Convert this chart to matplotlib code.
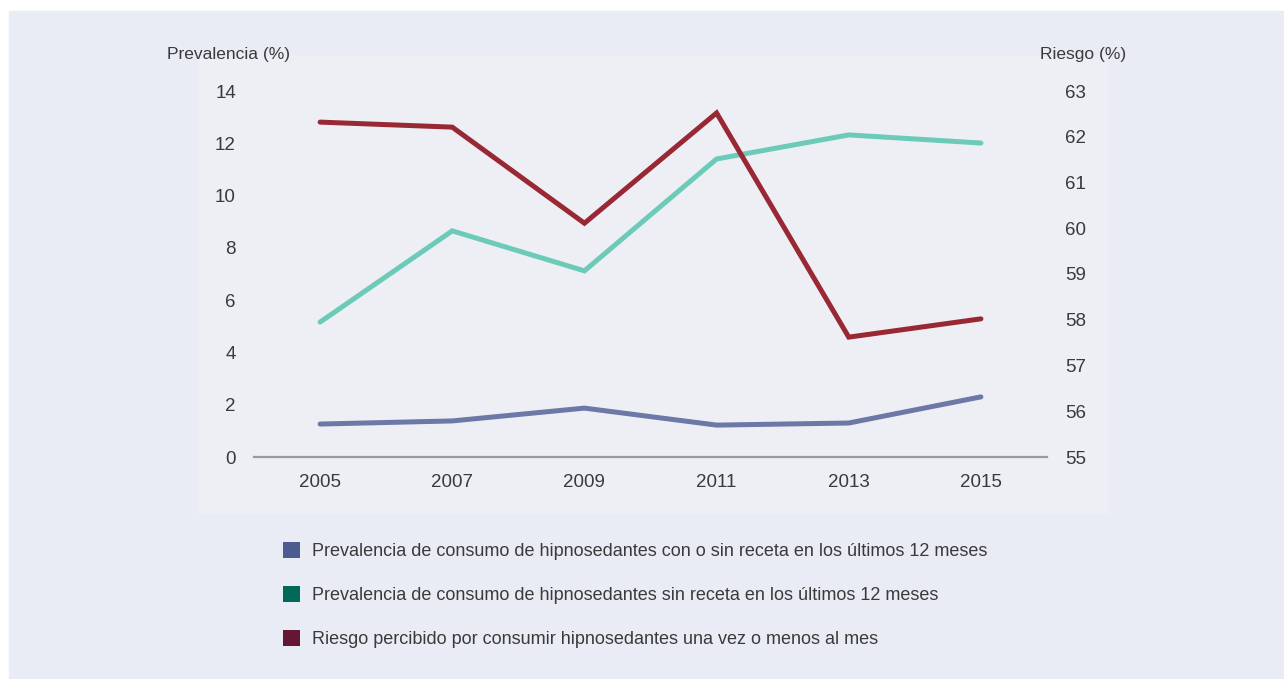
import matplotlib
matplotlib.use('Agg')
import matplotlib.pyplot as plt
from matplotlib.patches import Rectangle, Patch

plt.rcParams['font.family'] = ['Liberation Sans', 'DejaVu Sans']

years = [2005, 2007, 2009, 2011, 2013, 2015]
prev_total = [1.26, 1.38, 1.87, 1.22, 1.30, 2.30]
prev_sin_receta = [5.16, 8.65, 7.12, 11.40, 12.32, 12.01]
riesgo = [62.32, 62.21, 60.11, 62.52, 57.62, 58.02]

labels = [
    'Prevalencia de consumo de hipnosedantes con o sin receta en los últimos 12 meses',
    'Prevalencia de consumo de hipnosedantes sin receta en los últimos 12 meses',
    'Riesgo percibido por consumir hipnosedantes una vez o menos al mes',
]
line_colors = ['#6C78A6', '#6CCAB9', '#982833']
legend_colors = ['#4B5C8E', '#006A59', '#661533']
text_color = '#3A3A3A'

W, H = 1284, 679
fig = plt.figure(figsize=(W / 100, H / 100), dpi=100)
fig.patch.set_facecolor('white')

# fondo general y fondo del grafico
fig.patches.append(Rectangle((9 / W, 0), 1 - 9 / W, 1 - 11 / H,
                             transform=fig.transFigure, color='#E9ECF4', zorder=-2))
fig.patches.append(Rectangle((197 / W, 1 - 513 / H), (1107 - 197) / W, (513 - 56) / H,
                             transform=fig.transFigure, color='#EEEFF5', zorder=-1))

ax = fig.add_axes([254 / W, 1 - 457 / H, (1047 - 254) / W, (457 - 91) / H])
ax.patch.set_visible(False)
ax2 = ax.twinx()

ax.plot(years, prev_total, color=line_colors[0], lw=3.6, solid_capstyle='round', solid_joinstyle='miter')
ax.plot(years, prev_sin_receta, color=line_colors[1], lw=3.6, solid_capstyle='round', solid_joinstyle='miter')
ax2.plot(years, riesgo, color=line_colors[2], lw=3.6, solid_capstyle='round', solid_joinstyle='miter')

ax.set_xlim(2004, 2016)
ax.set_ylim(0, 14)
ax2.set_ylim(55, 63)
ax.set_xticks(years)
ax.set_yticks(range(0, 15, 2))
ax2.set_yticks(range(55, 64))

for a in (ax, ax2):
    for s in a.spines.values():
        s.set_visible(False)
    a.tick_params(length=0, labelsize=13.5, labelcolor=text_color)
ax.spines['bottom'].set_visible(True)
ax.spines['bottom'].set_color('#9A9A9A')
ax.spines['bottom'].set_linewidth(1.6)
ax.tick_params(axis='y', pad=13)
ax.tick_params(axis='x', pad=12.5)
ax2.tick_params(axis='y', pad=13)
for t in ax.get_yticklabels():
    t.set_horizontalalignment('right')

fig.text(167 / W, 1 - 54 / H, 'Prevalencia (%)', fontsize=12.5, color=text_color, va='center', ha='left')
fig.text(1040 / W, 1 - 54 / H, 'Riesgo (%)', fontsize=12.5, color=text_color, va='center', ha='left')

handles = [Patch(facecolor=c, edgecolor='none') for c in legend_colors]
fig.legend(handles, labels, loc='upper left', bbox_to_anchor=(274 / W, 1 - 533 / H),
           frameon=False, fontsize=13, handlelength=0.95, handleheight=0.95,
           handletextpad=0.65, labelspacing=1.44, borderpad=0, labelcolor=text_color)

fig.savefig('out.png', dpi=100)
